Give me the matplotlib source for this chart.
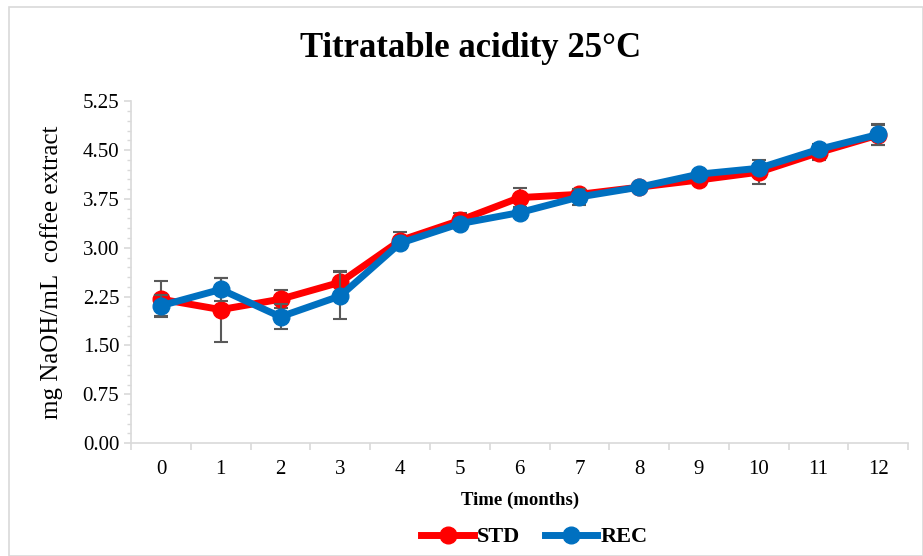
import numpy as np
import matplotlib
matplotlib.use("Agg")
import matplotlib.pyplot as plt
from matplotlib.patches import Rectangle
from matplotlib.lines import Line2D

plt.rcParams['font.family'] = ['Liberation Serif', 'DejaVu Serif']

# data
months = [0, 1, 2, 3, 4, 5, 6, 7, 8, 9, 10, 11, 12]
std = [2.21, 2.05, 2.21, 2.47, 3.11, 3.42, 3.77, 3.82, 3.93, 4.04, 4.16, 4.46, 4.73]
std_err = [0.28, 0.49, 0.14, 0.17, 0.13, 0.12, 0.14, 0.05, 0.04, 0.05, 0.18, 0.12, 0.16]
rec = [2.11, 2.36, 1.94, 2.26, 3.07, 3.37, 3.54, 3.78, 3.93, 4.13, 4.22, 4.51, 4.74]
rec_err = [0.16, 0.18, 0.19, 0.36, 0.05, 0.05, 0.05, 0.12, 0.04, 0.05, 0.06, 0.08, 0.16]
yticks = [0.00, 0.75, 1.50, 2.25, 3.00, 3.75, 4.50, 5.25]

red = '#ff0000'
blue = '#0070c0'

fig = plt.figure(figsize=(9.23, 5.56), dpi=100)
ax = fig.add_axes([0.142, 0.203, 0.842, 0.615])

fig.patches.append(Rectangle((0.0098, 0.0), 0.99, 0.987, transform=fig.transFigure,
                             fill=False, edgecolor='#d9d9d9', lw=1.2))

ax.errorbar(months, std, yerr=std_err, color=red, lw=5, marker='o', ms=12,
            ecolor='#595959', elinewidth=1.5, capsize=5, capthick=1.5, zorder=3)
ax.errorbar(months, rec, yerr=rec_err, color=blue, lw=5, marker='o', ms=12,
            ecolor='#595959', elinewidth=1.5, capsize=5, capthick=1.5, zorder=4)

ax.set_xlim(-0.5, 12.5)
ax.set_ylim(0, 5.25)
ax.set_yticks(yticks)
ax.set_yticklabels([f'{v:.2f}' for v in yticks])
ax.set_yticks(np.arange(0, 5.26, 0.15), minor=True)
ax.set_xticks(months)
ax.set_xticklabels([str(m) for m in months])
ax.set_xticks(np.arange(-0.5, 12.6, 1), minor=True)

ax.tick_params(axis='x', which='major', length=0, pad=12, labelsize=15)
ax.tick_params(axis='x', which='minor', length=5, color='#d9d9d9', width=1.2)
ax.tick_params(axis='y', which='major', length=5, color='#d9d9d9', width=1.2, labelsize=15)
ax.tick_params(axis='y', which='minor', length=3, color='#d9d9d9', width=1)

for s in ['top', 'right']:
    ax.spines[s].set_visible(False)
for s in ['left', 'bottom']:
    ax.spines[s].set_color('#d9d9d9')
    ax.spines[s].set_linewidth(1.2)

fig.text(0.51, 0.912, 'Titratable acidity 25°C', fontsize=25, fontweight='bold',
         ha='center', va='center')
ax.set_ylabel('mg NaOH/mL  coffee extract', fontsize=18, labelpad=14)
ax.set_xlabel('Time (months)', fontsize=13.5, fontweight='bold', labelpad=9)

handles = [Line2D([], [], color=red, lw=5, marker='o', ms=12),
           Line2D([], [], color=blue, lw=5, marker='o', ms=12)]
ax.legend(handles, ['STD', 'REC'], loc='center', bbox_to_anchor=(0.519, -0.275), ncol=2,
          frameon=False, prop={'weight': 'bold', 'size': 16}, handlelength=2.35,
          columnspacing=1.1, handletextpad=0.15)

fig.savefig('out.png', dpi=100)
